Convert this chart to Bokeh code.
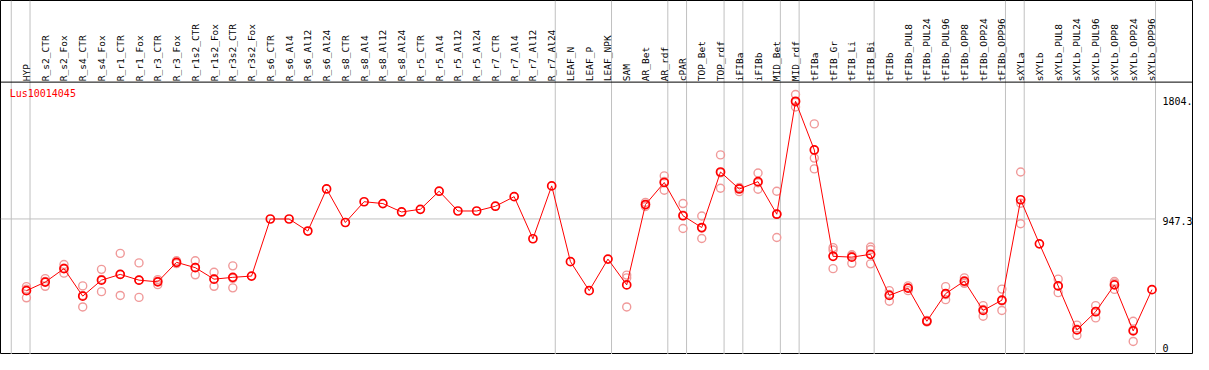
import math
from bokeh.plotting import figure
from bokeh.models import ColumnDataSource, Range1d, Span, Label
from bokeh.core.properties import value
from bokeh.embed import file_html
from bokeh.resources import INLINE

# ---------------- data ----------------
gene_name = "Lus10014045"

categories = [
    "HYP", "R_s2_CTR", "R_s2_Fox", "R_s4_CTR", "R_s4_Fox", "R_r1_CTR", "R_r1_Fox",
    "R_r3_CTR", "R_r3_Fox", "R_r1s2_CTR", "R_r1s2_Fox", "R_r3s2_CTR", "R_r3s2_Fox",
    "R_s6_CTR", "R_s6_Al4", "R_s6_Al12", "R_s6_Al24", "R_s8_CTR", "R_s8_Al4",
    "R_s8_Al12", "R_s8_Al24", "R_r5_CTR", "R_r5_Al4", "R_r5_Al12", "R_r5_Al24",
    "R_r7_CTR", "R_r7_Al4", "R_r7_Al12", "R_r7_Al24", "LEAF_N", "LEAF_P", "LEAF_NPK",
    "SAM", "AR_Bet", "AR_rdf", "cPAR", "TOP_Bet", "TOP_rdf", "iFIBa", "iFIBb",
    "MID_Bet", "MID_rdf", "tFIBa", "tFIB_Gr", "tFIB_Li", "tFIB_Bi", "tFIBb",
    "tFIBb_PUL8", "tFIBb_PUL24", "tFIBb_PUL96", "tFIBb_OPP8", "tFIBb_OPP24",
    "tFIBb_OPP96", "sXYLa", "sXYLb", "sXYLb_PUL8", "sXYLb_PUL24", "sXYLb_PUL96",
    "sXYLb_OPP8", "sXYLb_OPP24", "sXYLb_OPP96",
]

mean_expr = [
    436, 497, 593, 397, 511, 552, 511, 499, 638, 600, 518, 531, 540,
    947, 947, 861, 1161, 922, 1070, 1057, 997, 1016, 1145, 1004, 1004, 1038, 1106, 806, 1183,
    643, 436, 661,
    477, 1050, 1207, 970, 886, 1282, 1161, 1213, 981, 1786, 1439,
    681, 675, 695, 402, 454, 218, 415, 504, 295, 368,
    1084, 770, 470, 156, 286, 477, 149, 443,
]

NA = float("nan")
rep1 = [465, 522, 622, 470, 588, 702, 634, 515, 649, 649, 567, 613, NA,
        NA, NA, NA, NA, NA, NA, NA, NA, NA, NA, NA, NA, NA, NA, NA, NA,
        NA, NA, NA,
        547, 1065, 1254, 1057, 968, 1404, 1170, 1275, 1145, 1834, 1625,
        743, 692, 747, 436, 470, 224, 465, 527, 329, 447,
        1282, NA, 518, 190, 329, 501, 218, NA]
rep2 = [447, 467, 561, 320, 429, 402, 388, 479, 629, 549, 467, 456, NA,
        NA, NA, NA, NA, NA, NA, NA, NA, NA, NA, NA, NA, NA, NA, NA, NA,
        NA, NA, NA,
        527, 1036, 1152, 879, 808, 1166, 1142, 1159, 815, 1745, 1381,
        726, 683, 729, 361, 436, 213, 372, 488, 254, 295,
        1059, NA, 422, 117, 242, 490, 74, NA]
rep3 = [385, 502, 596, 401, 516, 552, 511, 503, 636, 602, 520, 524, NA,
        NA, NA, NA, NA, NA, NA, NA, NA, NA, NA, NA, NA, NA, NA, NA, NA,
        NA, NA, NA,
        320, 1049, 1215, 974, 882, 1276, 1171, 1205, 983, 1779, 1304,
        593, 631, 627, 409, 456, 217, 408, 497, 302, 362,
        913, NA, 470, 161, 287, 445, 156, NA]

# indices after which a group separator line is drawn (-1 = left edge)
group_ends = [-1, 0, 28, 31, 34, 35, 37, 38, 40, 41, 45, 52, 53, 60]

y_ticks = [1804, 947.3, 0]
y_tick_labels = ["1804.", "947.3", "0"]
mid_grid = 947.3

# ---------------- layout (pixel design of reference, scaled to fit) -------------
REF_W, REF_H = 1209, 370
W, H = 1193, 354
X0_PX, DX_PX = 26.3, 19.01          # px of first category, px per category
Y0_PX, DY_PX = 367.2, 0.14661       # px of value 0, px per unit

def px_to_x(px):
    return (px - X0_PX) / DX_PX

def px_to_y(py):
    return (Y0_PX - py) / DY_PX

x_range = Range1d(px_to_x(0), px_to_x(REF_W))
y_range = Range1d(px_to_y(REF_H), px_to_y(0))

p = figure(width=W, height=H, x_range=x_range, y_range=y_range,
           output_backend="svg", toolbar_location=None,
           x_axis_location=None, y_axis_location=None, min_border=0)
p.xgrid.visible = False
p.ygrid.visible = False
p.outline_line_color = "black"
p.outline_line_width = 1
p.background_fill_color = "white"
p.border_fill_color = "white"

GRAY = "#c0c0c0"
RED = "#ff0000"
PINK = "#f09a9a"
FONT = value("DejaVu Sans Mono")

sep_offset = 0.19
for g in group_ends:
    p.add_layout(Span(location=g + sep_offset, dimension="height",
                      line_color=GRAY, line_width=1, level="underlay"))

last_sep = group_ends[-1] + sep_offset
p.segment(x0=[x_range.start], y0=[mid_grid], x1=[last_sep], y1=[mid_grid],
          line_color=GRAY, line_width=1, level="underlay")

header_y = px_to_y(85.3)
p.add_layout(Span(location=header_y, dimension="width", line_color="black", line_width=1))

idx = list(range(len(categories)))

# replicates
rx, ry = [], []
for r in (rep1, rep2, rep3):
    for i, v in enumerate(r):
        if v == v:
            rx.append(i)
            ry.append(v)
p.scatter(rx, ry, marker="circle", size=8, fill_color=None,
          line_color=PINK, line_width=1.4)

src = ColumnDataSource(dict(x=idx, y=mean_expr, name=categories))
p.line("x", "y", source=src, line_color=RED, line_width=1)
p.scatter("x", "y", source=src, marker="circle", size=8, fill_color=None,
          line_color=RED, line_width=1.7)

# category labels in header
lab_src = ColumnDataSource(dict(x=idx, y=[px_to_y(84.3)] * len(idx), text=categories))
p.text("x", "y", text="text", source=lab_src, angle=math.pi / 2,
       text_align="left", text_baseline="middle",
       text_font=FONT, text_font_size="9.5px", text_color="black")

# value labels at right
lx = px_to_x(1177.5)
p.text(x=[lx, lx], y=y_ticks[:2], text=y_tick_labels[:2],
       text_align="left", text_baseline="top", y_offset=-1.5,
       text_font=FONT, text_font_size="10px", text_color="black")
p.text(x=[lx], y=y_ticks[2:], text=y_tick_labels[2:],
       text_align="left", text_baseline="bottom", y_offset=0,
       text_font=FONT, text_font_size="10px", text_color="black")

p.add_layout(Label(x=px_to_x(9.3), y=px_to_y(91.5), text=gene_name,
                   text_align="left", text_baseline="top",
                   text_font="DejaVu Sans Mono", text_font_size="10px", text_color=RED))

open("out.html", "w").write(file_html(p, INLINE))
